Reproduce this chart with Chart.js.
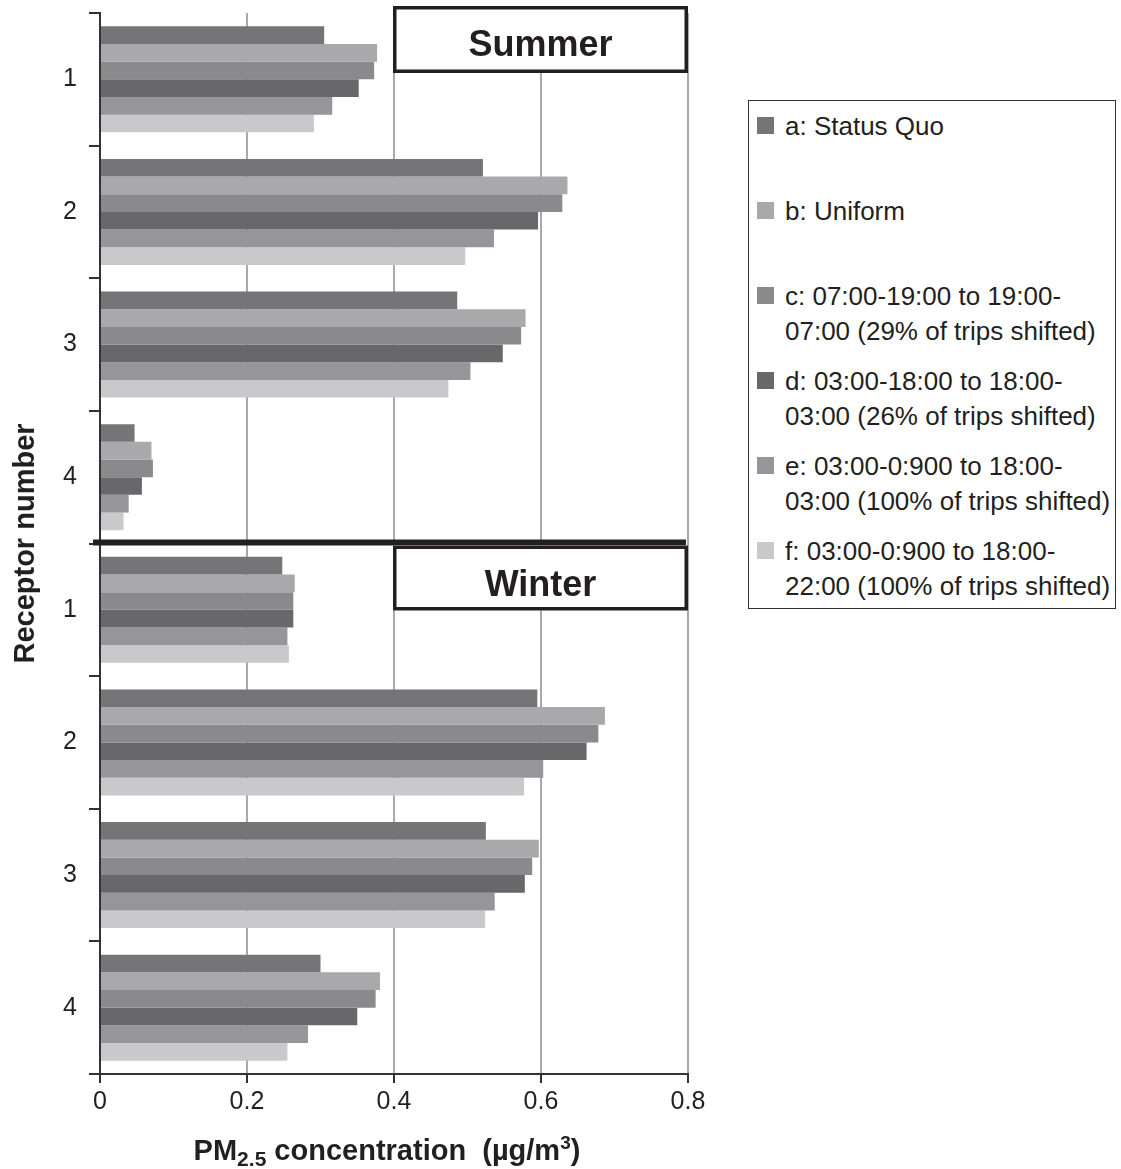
<!DOCTYPE html>
<html>
<head>
<meta charset="utf-8">
<title>PM2.5 by receptor</title>
<script src="https://cdn.jsdelivr.net/npm/chart.js@4.4.1/dist/chart.umd.min.js"></script>
<style>
  body { margin: 0; background: #fff; font-family: "Liberation Sans", Arial, sans-serif; }
  #wrap { position: relative; width: 1121px; height: 1169px; }
  #legend { position: absolute; left: 748px; top: 100px; width: 368px; height: 509px;
            border: 1.5px solid #333; box-sizing: border-box; background: #fff; }
  .swatch { position: absolute; left: 7.5px; width: 17px; height: 17px; }
  .text { position: absolute; left: 36px; font-size: 26px; line-height: 35px;
          color: #231f20; white-space: nowrap; }
</style>
</head>
<body>
<div id="wrap">
  <canvas id="chart" width="1121" height="1169"></canvas>
  <div id="legend"></div>
</div>
<script>
// categories: receptor numbers, summer panel first then winter panel
const receptors = ['1', '2', '3', '4'];
const seasons = ['Summer', 'Winter'];

// x axis ticks
const xTickValues = [0, 0.2, 0.4, 0.6, 0.8];
const xTickLabels = ['0', '0.2', '0.4', '0.6', '0.8'];

// legend text (split the way the figure wraps it)
const seriesLabels = [
  ['a: Status Quo'],
  ['b: Uniform'],
  ['c: 07:00-19:00 to 19:00-', '07:00 (29% of trips shifted)'],
  ['d: 03:00-18:00 to 18:00-', '03:00 (26% of trips shifted)'],
  ['e: 03:00-0:900 to 18:00-', '03:00 (100% of trips shifted)'],
  ['f: 03:00-0:900 to 18:00-', '22:00 (100% of trips shifted)']
];
const seriesColors = ['#757577', '#a9a9ac', '#8a8a8d', '#68686a', '#96969a', '#c9c9cc'];

// PM2.5 concentration (ug/m3), receptors 1-4
const summerA = [0.305, 0.521, 0.486, 0.047];
const summerB = [0.377, 0.636, 0.579, 0.070];
const summerC = [0.373, 0.629, 0.573, 0.072];
const summerD = [0.352, 0.596, 0.548, 0.057];
const summerE = [0.316, 0.536, 0.504, 0.039];
const summerF = [0.291, 0.497, 0.474, 0.032];

const winterA = [0.248, 0.595, 0.525, 0.300];
const winterB = [0.265, 0.687, 0.597, 0.381];
const winterC = [0.263, 0.678, 0.588, 0.375];
const winterD = [0.263, 0.662, 0.578, 0.350];
const winterE = [0.255, 0.603, 0.537, 0.283];
const winterF = [0.257, 0.577, 0.524, 0.255];

const summer = [summerA, summerB, summerC, summerD, summerE, summerF];
const winter = [winterA, winterB, winterC, winterD, winterE, winterF];

const FONT = '"Liberation Sans", Arial, sans-serif';
const INK = '#231f20';
Chart.defaults.font.family = FONT;
Chart.defaults.color = INK;

// thick divider, season boxes and the x axis title (needs sub/superscript)
const panelDecor = {
  id: 'panelDecor',
  afterDatasetsDraw(chart) {
    const { ctx, scales: { x, y } } = chart;
    const sepY = y.getPixelForValue(3.5) - 1;
    const boxLeft = x.getPixelForValue(0.4) - 1;
    const boxRight = x.right;

    ctx.save();
    // divider between the two panels
    ctx.fillStyle = INK;
    ctx.fillRect(x.left - 7, sepY - 3, boxRight - 2 - (x.left - 7), 6);

    const boxes = [
      { text: seasons[0], top: chart.chartArea.top - 7, h: 67 },
      { text: seasons[1], top: sepY + 3, h: 65 }
    ];
    boxes.forEach(b => {
      ctx.fillStyle = '#fff';
      ctx.fillRect(boxLeft, b.top, boxRight - boxLeft, b.h);
      ctx.lineWidth = 3.5;
      ctx.strokeStyle = INK;
      ctx.strokeRect(boxLeft + 1.75, b.top + 1.75, boxRight - boxLeft - 3.5, b.h - 3.5);
      ctx.fillStyle = INK;
      ctx.font = 'bold 36px ' + FONT;
      ctx.textAlign = 'center';
      ctx.textBaseline = 'alphabetic';
      ctx.fillText(b.text, (boxLeft + boxRight) / 2, b.top + 50);
    });
    ctx.restore();
  },
  afterDraw(chart) {
    const { ctx } = chart;
    const parts = [
      { t: 'PM', size: 29, dy: 0 },
      { t: '2.5', size: 21, dy: 6 },
      { t: ' concentration  (\u00b5g/m', size: 29, dy: 0 },
      { t: '3', size: 19, dy: -11 },
      { t: ')', size: 29, dy: 0 }
    ];
    ctx.save();
    ctx.fillStyle = INK;
    ctx.textAlign = 'left';
    ctx.textBaseline = 'alphabetic';
    let total = 0;
    parts.forEach(p => {
      ctx.font = 'bold ' + p.size + 'px ' + FONT;
      p.w = ctx.measureText(p.t).width;
      total += p.w;
    });
    let cx = 387 - total / 2;
    const base = 1160;
    parts.forEach(p => {
      ctx.font = 'bold ' + p.size + 'px ' + FONT;
      ctx.fillText(p.t, cx, base + p.dy);
      cx += p.w;
    });
    ctx.restore();
  }
};

const labels = seasons.flatMap(() => receptors);

const datasets = seriesLabels.map((lbl, i) => ({
  label: lbl.join(' '),
  data: summer[i].concat(winter[i]),
  backgroundColor: seriesColors[i],
  borderWidth: 0,
  categoryPercentage: 0.8,
  barPercentage: 1.0
}));

new Chart(document.getElementById('chart').getContext('2d'), {
  type: 'bar',
  data: { labels, datasets },
  options: {
    indexAxis: 'y',
    responsive: false,
    animation: false,
    layout: { padding: { left: 0, right: 433, top: 13, bottom: 0 } },
    plugins: {
      legend: { display: false },
      tooltip: { enabled: false }
    },
    scales: {
      x: {
        type: 'linear',
        min: 0,
        max: 0.8,
        afterBuildTicks: (scale) => {
          scale.ticks = xTickValues.map(v => ({ value: v }));
        },
        afterFit: (scale) => {
          scale.height = 95;
          scale.paddingLeft = 0;
          scale.paddingRight = 0;
        },
        ticks: {
          font: { size: 25 },
          color: INK,
          padding: 4,
          callback: (v, i) => xTickLabels[i]
        },
        grid: { color: '#a9a9ad', lineWidth: 2, tickColor: '#333', tickLength: 9 },
        border: { display: true, color: '#333', width: 2 }
      },
      y: {
        type: 'category',
        afterFit: (scale) => {
          scale.width = 100;
          scale.paddingTop = 0;
          scale.paddingBottom = 0;
        },
        ticks: { font: { size: 25 }, color: INK, padding: 12 },
        grid: { drawOnChartArea: false, offset: true, color: '#333', lineWidth: 2, tickLength: 11 },
        border: { display: true, color: '#333', width: 2 },
        title: {
          display: true,
          text: 'Receptor number',
          font: { size: 29, weight: 'bold' },
          color: INK,
          padding: { top: 9, bottom: 0 }
        }
      }
    }
  },
  plugins: [panelDecor]
});

// legend drawn as html so the entries can wrap like the figure
const legendEl = document.getElementById('legend');
seriesLabels.forEach((lines, i) => {
  const top = 15.5 + i * 85;
  const sw = document.createElement('div');
  sw.className = 'swatch';
  sw.style.top = top + 'px';
  sw.style.background = seriesColors[i];
  legendEl.appendChild(sw);
  const tx = document.createElement('div');
  tx.className = 'text';
  tx.style.top = (top - 8) + 'px';
  tx.innerHTML = lines.join('<br>');
  legendEl.appendChild(tx);
});
</script>
</body>
</html>
